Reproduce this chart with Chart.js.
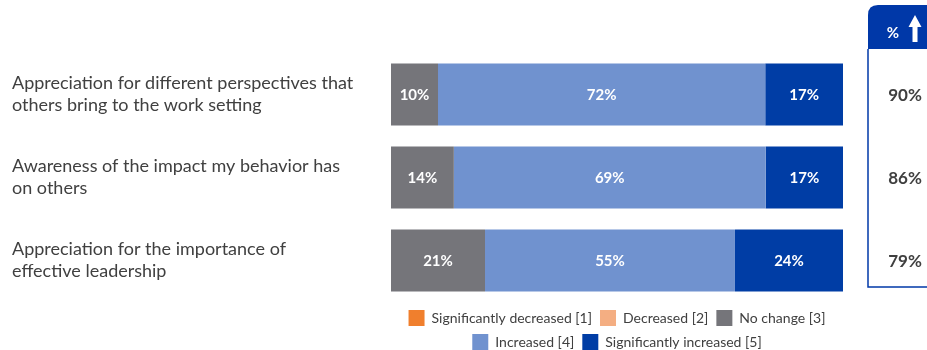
<!DOCTYPE html>
<html>
<head>
<meta charset="utf-8">
<script src="https://cdn.jsdelivr.net/npm/chart.js@4"></script>
<style>
  html, body { margin: 0; padding: 0; background: #fff; }
  #wrap { width: 927px; height: 350px; }
</style>
</head>
<body>
<div id="wrap"><canvas id="grafica" width="927" height="350"></canvas></div>
<script>
// categorias (una linea por elemento del array)
const categorias = [
  ['Appreciation for different perspectives that', 'others bring to the work setting'],
  ['Awareness of the impact my behavior has', 'on others'],
  ['Appreciation for the importance of', 'effective leadership']
];

// series, en porcentaje
const sigDecreased = [0, 0, 0];
const decreased = [0, 0, 0];
const noChange = [10.4, 13.9, 20.8];
const increased = [72.4, 69.0, 55.3];
const sigIncreased = [17.2, 17.1, 23.9];

// columna "% aumento"
const pctArriba = [90, 86, 79];

const nombresSeries = ['Significantly decreased [1]', 'Decreased [2]', 'No change [3]', 'Increased [4]', 'Significantly increased [5]'];
const colores = ['#F07F2D', '#F4AE82', '#75757A', '#7092CF', '#003DA5'];
const valoresSeries = [sigDecreased, decreased, noChange, increased, sigIncreased];

const fuente = 'Lato, "Open Sans", sans-serif';
const grisTexto = '#404040';
const azulCaja = '#0038A8';

// Etiquetas blancas dentro de las barras
const etiquetasBarras = {
  id: 'etiquetasBarras',
  afterDatasetsDraw(chart) {
    const ctx = chart.ctx;
    ctx.save();
    ctx.font = 'bold 15px ' + fuente;
    ctx.fillStyle = '#fff';
    ctx.textAlign = 'center';
    ctx.textBaseline = 'middle';
    chart.data.datasets.forEach((ds, i) => {
      chart.getDatasetMeta(i).data.forEach((bar, j) => {
        const v = ds.data[j];
        if (!v) return;
        const p = bar.getProps(['x', 'y', 'base'], true);
        ctx.fillText(Math.round(v) + '%', (p.x + p.base) / 2, p.y + 1);
      });
    });
    ctx.restore();
  }
};

// Caja de la derecha con % de aumento
const cajaAumento = {
  id: 'cajaAumento',
  afterDraw(chart) {
    const ctx = chart.ctx;
    const area = chart.chartArea;
    const izq = area.right + 25;
    const der = chart.width + 10;
    const arriba = 5;
    const finCabecera = 49;
    const abajo = 287;
    const r = 10;
    ctx.save();
    // cabecera
    ctx.fillStyle = azulCaja;
    ctx.beginPath();
    ctx.moveTo(izq, finCabecera);
    ctx.lineTo(izq, arriba + r);
    ctx.quadraticCurveTo(izq, arriba, izq + r, arriba);
    ctx.lineTo(der, arriba);
    ctx.lineTo(der, finCabecera);
    ctx.closePath();
    ctx.fill();
    // borde
    ctx.strokeStyle = azulCaja;
    ctx.lineWidth = 1.5;
    ctx.beginPath();
    ctx.moveTo(izq, finCabecera);
    ctx.lineTo(izq, abajo);
    ctx.lineTo(der, abajo);
    ctx.stroke();
    // "%" y flecha
    ctx.fillStyle = '#fff';
    ctx.font = 'bold 15px ' + fuente;
    ctx.textAlign = 'center';
    ctx.textBaseline = 'middle';
    ctx.fillText('%', izq + 25, 33);
    const ax = izq + 47;
    ctx.beginPath();
    ctx.moveTo(ax, 15);
    ctx.lineTo(ax + 6.5, 27);
    ctx.lineTo(ax + 2.5, 27);
    ctx.lineTo(ax + 2.5, 42);
    ctx.lineTo(ax - 2.5, 42);
    ctx.lineTo(ax - 2.5, 27);
    ctx.lineTo(ax - 6.5, 27);
    ctx.closePath();
    ctx.fill();
    // valores
    ctx.fillStyle = grisTexto;
    ctx.font = 'bold 17px ' + fuente;
    const y = chart.scales.y;
    pctArriba.forEach((v, i) => {
      ctx.fillText(v + '%', izq + 37, y.getPixelForValue(i) + 1);
    });
    ctx.restore();
  }
};

new Chart(document.getElementById('grafica'), {
  type: 'bar',
  data: {
    labels: categorias,
    datasets: nombresSeries.map((nombre, i) => ({
      label: nombre,
      data: valoresSeries[i],
      backgroundColor: colores[i],
      borderWidth: 0,
      categoryPercentage: 1,
      barPercentage: 0.744
    }))
  },
  options: {
    indexAxis: 'y',
    responsive: false,
    animation: false,
    layout: { padding: { left: 12, right: 84, top: 53, bottom: -10 } },
    scales: {
      x: { stacked: true, min: 0, max: 100, display: false },
      y: {
        stacked: true,
        grid: { display: false },
        border: { display: false },
        ticks: {
          crossAlign: 'far',
          color: grisTexto,
          font: { family: fuente, size: 18, lineHeight: 1.22 }
        },
        afterFit(scale) { scale.width = 379; }
      }
    },
    plugins: {
      legend: {
        position: 'bottom',
        fullSize: false,
        labels: {
          boxWidth: 16,
          boxHeight: 16,
          padding: 8,
          color: grisTexto,
          font: { family: fuente, size: 14 }
        }
      },
      tooltip: { enabled: false }
    }
  },
  plugins: [etiquetasBarras, cajaAumento]
});
</script>
</body>
</html>
